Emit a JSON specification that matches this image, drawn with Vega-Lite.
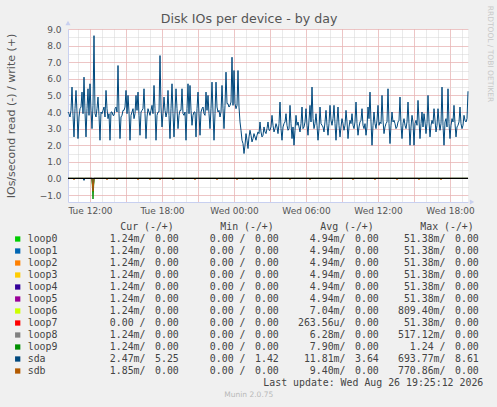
{
  "$schema": "https://vega.github.io/schema/vega-lite/v6.json",
  "background": "#f0f0f0",
  "padding": {"left": 5, "top": 5, "right": 20, "bottom": 20},
  "config": {"view": {"stroke": null}, "font": "DejaVu Sans"},
  "title": {"text": "Disk IOs per device - by day", "font": "DejaVu Sans", "fontSize": 12.6, "fontWeight": "normal", "color": "#555555", "anchor": "middle", "offset": -20.5},
  "spacing": 7,
  "datasets": {
    "write": [
      {"t": "2026-08-25T10:10", "v": 4.0}, {"t": "2026-08-25T10:20", "v": 3.7}, {"t": "2026-08-25T10:30", "v": 5.5}, {"t": "2026-08-25T10:40", "v": 2.5}, {"t": "2026-08-25T10:50", "v": 5.3},
      {"t": "2026-08-25T11:00", "v": 2.4}, {"t": "2026-08-25T11:10", "v": 4.2}, {"t": "2026-08-25T11:20", "v": 5.2}, {"t": "2026-08-25T11:30", "v": 6.1}, {"t": "2026-08-25T11:40", "v": 2.5}, {"t": "2026-08-25T11:50", "v": 5.4},
      {"t": "2026-08-25T12:00", "v": 5.7}, {"t": "2026-08-25T12:10", "v": 3.0}, {"t": "2026-08-25T12:20", "v": 8.6}, {"t": "2026-08-25T12:30", "v": 3.7}, {"t": "2026-08-25T12:40", "v": 4.9}, {"t": "2026-08-25T12:50", "v": 2.3},
      {"t": "2026-08-25T13:00", "v": 3.9}, {"t": "2026-08-25T13:10", "v": 4.3}, {"t": "2026-08-25T13:20", "v": 5.3}, {"t": "2026-08-25T13:30", "v": 3.6}, {"t": "2026-08-25T13:40", "v": 2.3}, {"t": "2026-08-25T13:50", "v": 4.0},
      {"t": "2026-08-25T14:00", "v": 3.8}, {"t": "2026-08-25T14:10", "v": 4.3}, {"t": "2026-08-25T14:20", "v": 6.8}, {"t": "2026-08-25T14:30", "v": 2.4}, {"t": "2026-08-25T14:40", "v": 3.8}, {"t": "2026-08-25T14:50", "v": 4.1},
      {"t": "2026-08-25T15:00", "v": 5.3}, {"t": "2026-08-25T15:10", "v": 5.0}, {"t": "2026-08-25T15:20", "v": 2.3}, {"t": "2026-08-25T15:30", "v": 4.0}, {"t": "2026-08-25T15:40", "v": 3.6}, {"t": "2026-08-25T15:50", "v": 5.0},
      {"t": "2026-08-25T16:00", "v": 5.2}, {"t": "2026-08-25T16:10", "v": 2.6}, {"t": "2026-08-25T16:20", "v": 4.1}, {"t": "2026-08-25T16:30", "v": 5.4}, {"t": "2026-08-25T16:40", "v": 2.4}, {"t": "2026-08-25T16:50", "v": 4.2},
      {"t": "2026-08-25T17:00", "v": 3.8}, {"t": "2026-08-25T17:10", "v": 4.4}, {"t": "2026-08-25T17:20", "v": 5.6}, {"t": "2026-08-25T17:30", "v": 2.3}, {"t": "2026-08-25T17:40", "v": 4.0}, {"t": "2026-08-25T17:50", "v": 7.4},
      {"t": "2026-08-25T18:00", "v": 3.1}, {"t": "2026-08-25T18:10", "v": 4.9}, {"t": "2026-08-25T18:20", "v": 3.7}, {"t": "2026-08-25T18:30", "v": 5.3}, {"t": "2026-08-25T18:40", "v": 2.4}, {"t": "2026-08-25T18:50", "v": 5.7},
      {"t": "2026-08-25T19:00", "v": 2.5}, {"t": "2026-08-25T19:10", "v": 5.4}, {"t": "2026-08-25T19:20", "v": 3.0}, {"t": "2026-08-25T19:30", "v": 4.1}, {"t": "2026-08-25T19:40", "v": 5.4}, {"t": "2026-08-25T19:50", "v": 3.8},
      {"t": "2026-08-25T20:00", "v": 2.3}, {"t": "2026-08-25T20:10", "v": 5.7}, {"t": "2026-08-25T20:20", "v": 5.6}, {"t": "2026-08-25T20:30", "v": 3.2}, {"t": "2026-08-25T20:40", "v": 4.0}, {"t": "2026-08-25T20:50", "v": 2.5},
      {"t": "2026-08-25T21:00", "v": 5.2}, {"t": "2026-08-25T21:10", "v": 2.6}, {"t": "2026-08-25T21:20", "v": 4.2}, {"t": "2026-08-25T21:30", "v": 3.9}, {"t": "2026-08-25T21:40", "v": 5.2}, {"t": "2026-08-25T21:50", "v": 5.0},
      {"t": "2026-08-25T22:00", "v": 3.0}, {"t": "2026-08-25T22:10", "v": 5.8}, {"t": "2026-08-25T22:20", "v": 2.3}, {"t": "2026-08-25T22:30", "v": 5.8}, {"t": "2026-08-25T22:40", "v": 4.0}, {"t": "2026-08-25T22:50", "v": 3.7},
      {"t": "2026-08-25T23:00", "v": 5.6}, {"t": "2026-08-25T23:10", "v": 3.0}, {"t": "2026-08-25T23:20", "v": 6.4}, {"t": "2026-08-25T23:30", "v": 4.5}, {"t": "2026-08-25T23:40", "v": 4.4}, {"t": "2026-08-25T23:50", "v": 7.3},
      {"t": "2026-08-26T00:00", "v": 6.5}, {"t": "2026-08-26T00:10", "v": 4.2}, {"t": "2026-08-26T00:20", "v": 6.5}, {"t": "2026-08-26T00:30", "v": 3.4}, {"t": "2026-08-26T00:40", "v": 2.3}, {"t": "2026-08-26T00:50", "v": 1.5},
      {"t": "2026-08-26T01:00", "v": 2.7}, {"t": "2026-08-26T01:10", "v": 1.8}, {"t": "2026-08-26T01:20", "v": 2.9}, {"t": "2026-08-26T01:30", "v": 2.2}, {"t": "2026-08-26T01:40", "v": 2.7}, {"t": "2026-08-26T01:50", "v": 2.3},
      {"t": "2026-08-26T02:00", "v": 2.8}, {"t": "2026-08-26T02:10", "v": 3.4}, {"t": "2026-08-26T02:20", "v": 2.5}, {"t": "2026-08-26T02:30", "v": 3.1}, {"t": "2026-08-26T02:40", "v": 2.7}, {"t": "2026-08-26T02:50", "v": 3.4},
      {"t": "2026-08-26T03:00", "v": 2.9}, {"t": "2026-08-26T03:10", "v": 3.8}, {"t": "2026-08-26T03:20", "v": 2.8}, {"t": "2026-08-26T03:30", "v": 3.3}, {"t": "2026-08-26T03:40", "v": 2.7}, {"t": "2026-08-26T03:50", "v": 4.6},
      {"t": "2026-08-26T04:00", "v": 2.3}, {"t": "2026-08-26T04:10", "v": 3.3}, {"t": "2026-08-26T04:20", "v": 3.9}, {"t": "2026-08-26T04:30", "v": 2.9}, {"t": "2026-08-26T04:40", "v": 4.4}, {"t": "2026-08-26T04:50", "v": 2.4},
      {"t": "2026-08-26T05:00", "v": 2.0}, {"t": "2026-08-26T05:10", "v": 3.8}, {"t": "2026-08-26T05:20", "v": 3.4}, {"t": "2026-08-26T05:30", "v": 2.8}, {"t": "2026-08-26T05:40", "v": 4.3}, {"t": "2026-08-26T05:50", "v": 3.1},
      {"t": "2026-08-26T06:00", "v": 4.2}, {"t": "2026-08-26T06:10", "v": 2.6}, {"t": "2026-08-26T06:20", "v": 4.4}, {"t": "2026-08-26T06:30", "v": 5.5}, {"t": "2026-08-26T06:40", "v": 3.0}, {"t": "2026-08-26T06:50", "v": 3.9},
      {"t": "2026-08-26T07:00", "v": 2.3}, {"t": "2026-08-26T07:10", "v": 4.3}, {"t": "2026-08-26T07:20", "v": 3.2}, {"t": "2026-08-26T07:30", "v": 2.8}, {"t": "2026-08-26T07:40", "v": 4.1}, {"t": "2026-08-26T07:50", "v": 2.6},
      {"t": "2026-08-26T08:00", "v": 4.4}, {"t": "2026-08-26T08:10", "v": 3.2}, {"t": "2026-08-26T08:20", "v": 4.4}, {"t": "2026-08-26T08:30", "v": 2.3}, {"t": "2026-08-26T08:40", "v": 4.3}, {"t": "2026-08-26T08:50", "v": 2.5},
      {"t": "2026-08-26T09:00", "v": 3.6}, {"t": "2026-08-26T09:10", "v": 2.9}, {"t": "2026-08-26T09:20", "v": 4.1}, {"t": "2026-08-26T09:30", "v": 2.4}, {"t": "2026-08-26T09:40", "v": 3.5}, {"t": "2026-08-26T09:50", "v": 3.9},
      {"t": "2026-08-26T10:00", "v": 3.0}, {"t": "2026-08-26T10:10", "v": 4.6}, {"t": "2026-08-26T10:20", "v": 2.6}, {"t": "2026-08-26T10:30", "v": 3.4}, {"t": "2026-08-26T10:40", "v": 4.2}, {"t": "2026-08-26T10:50", "v": 3.0},
      {"t": "2026-08-26T11:00", "v": 2.6}, {"t": "2026-08-26T11:10", "v": 4.3}, {"t": "2026-08-26T11:20", "v": 5.2}, {"t": "2026-08-26T11:30", "v": 2.0}, {"t": "2026-08-26T11:40", "v": 4.0}, {"t": "2026-08-26T11:50", "v": 3.0},
      {"t": "2026-08-26T12:00", "v": 4.4}, {"t": "2026-08-26T12:10", "v": 3.4}, {"t": "2026-08-26T12:20", "v": 5.0}, {"t": "2026-08-26T12:30", "v": 2.7}, {"t": "2026-08-26T12:40", "v": 3.3}, {"t": "2026-08-26T12:50", "v": 5.4},
      {"t": "2026-08-26T13:00", "v": 2.1}, {"t": "2026-08-26T13:10", "v": 4.0}, {"t": "2026-08-26T13:20", "v": 3.5}, {"t": "2026-08-26T13:30", "v": 3.0}, {"t": "2026-08-26T13:40", "v": 3.4}, {"t": "2026-08-26T13:50", "v": 4.9},
      {"t": "2026-08-26T14:00", "v": 2.4}, {"t": "2026-08-26T14:10", "v": 3.6}, {"t": "2026-08-26T14:20", "v": 3.0}, {"t": "2026-08-26T14:30", "v": 4.6}, {"t": "2026-08-26T14:40", "v": 2.0}, {"t": "2026-08-26T14:50", "v": 3.8},
      {"t": "2026-08-26T15:00", "v": 2.0}, {"t": "2026-08-26T15:10", "v": 3.5}, {"t": "2026-08-26T15:20", "v": 4.7}, {"t": "2026-08-26T15:30", "v": 2.4}, {"t": "2026-08-26T15:40", "v": 4.0}, {"t": "2026-08-26T15:50", "v": 3.9},
      {"t": "2026-08-26T16:00", "v": 2.7}, {"t": "2026-08-26T16:10", "v": 5.0}, {"t": "2026-08-26T16:20", "v": 2.5}, {"t": "2026-08-26T16:30", "v": 3.5}, {"t": "2026-08-26T16:40", "v": 4.2}, {"t": "2026-08-26T16:50", "v": 2.8},
      {"t": "2026-08-26T17:00", "v": 4.2}, {"t": "2026-08-26T17:10", "v": 2.9}, {"t": "2026-08-26T17:20", "v": 5.5}, {"t": "2026-08-26T17:30", "v": 2.0}, {"t": "2026-08-26T17:40", "v": 3.6}, {"t": "2026-08-26T17:50", "v": 5.4},
      {"t": "2026-08-26T18:00", "v": 2.4}, {"t": "2026-08-26T18:10", "v": 3.6}, {"t": "2026-08-26T18:20", "v": 4.4}, {"t": "2026-08-26T18:30", "v": 2.5}, {"t": "2026-08-26T18:40", "v": 3.2}, {"t": "2026-08-26T18:50", "v": 4.3},
      {"t": "2026-08-26T19:00", "v": 3.0}, {"t": "2026-08-26T19:10", "v": 3.8}, {"t": "2026-08-26T19:20", "v": 3.4}, {"t": "2026-08-26T19:30", "v": 5.25},
      {"t": "2026-08-25T10:15", "v": 3.9}, {"t": "2026-08-25T10:25", "v": 4.1}, {"t": "2026-08-25T10:35", "v": 3.8}, {"t": "2026-08-25T10:45", "v": 4.2}, {"t": "2026-08-25T10:55", "v": 4.0},
      {"t": "2026-08-25T11:05", "v": 3.7}, {"t": "2026-08-25T11:15", "v": 4.3}, {"t": "2026-08-25T11:25", "v": 3.9}, {"t": "2026-08-25T11:35", "v": 4.0}, {"t": "2026-08-25T11:45", "v": 4.2}, {"t": "2026-08-25T11:55", "v": 3.8},
      {"t": "2026-08-25T12:05", "v": 4.1}, {"t": "2026-08-25T12:15", "v": 4.4}, {"t": "2026-08-25T12:25", "v": 3.9}, {"t": "2026-08-25T12:35", "v": 4.2}, {"t": "2026-08-25T12:45", "v": 3.8}, {"t": "2026-08-25T12:55", "v": 4.0},
      {"t": "2026-08-25T13:05", "v": 4.1}, {"t": "2026-08-25T13:15", "v": 3.7}, {"t": "2026-08-25T13:25", "v": 4.2}, {"t": "2026-08-25T13:35", "v": 3.9}, {"t": "2026-08-25T13:45", "v": 4.0}, {"t": "2026-08-25T13:55", "v": 3.8},
      {"t": "2026-08-25T14:05", "v": 4.2}, {"t": "2026-08-25T14:15", "v": 4.0}, {"t": "2026-08-25T14:25", "v": 3.9}, {"t": "2026-08-25T14:35", "v": 3.7}, {"t": "2026-08-25T14:45", "v": 4.1}, {"t": "2026-08-25T14:55", "v": 4.3},
      {"t": "2026-08-25T15:05", "v": 3.9}, {"t": "2026-08-25T15:15", "v": 4.0}, {"t": "2026-08-25T15:25", "v": 3.8}, {"t": "2026-08-25T15:35", "v": 4.2}, {"t": "2026-08-25T15:45", "v": 3.9}, {"t": "2026-08-25T15:55", "v": 4.1},
      {"t": "2026-08-25T16:05", "v": 3.8}, {"t": "2026-08-25T16:15", "v": 4.0}, {"t": "2026-08-25T16:25", "v": 4.2}, {"t": "2026-08-25T16:35", "v": 3.9}, {"t": "2026-08-25T16:45", "v": 3.7}, {"t": "2026-08-25T16:55", "v": 4.0},
      {"t": "2026-08-25T17:05", "v": 4.1}, {"t": "2026-08-25T17:15", "v": 3.9}, {"t": "2026-08-25T17:25", "v": 4.2}, {"t": "2026-08-25T17:35", "v": 3.8}, {"t": "2026-08-25T17:45", "v": 4.0}, {"t": "2026-08-25T17:55", "v": 4.3},
      {"t": "2026-08-25T18:05", "v": 3.9}, {"t": "2026-08-25T18:15", "v": 4.1}, {"t": "2026-08-25T18:25", "v": 4.0}, {"t": "2026-08-25T18:35", "v": 3.8}, {"t": "2026-08-25T18:45", "v": 4.2}, {"t": "2026-08-25T18:55", "v": 3.9},
      {"t": "2026-08-25T19:05", "v": 4.0}, {"t": "2026-08-25T19:15", "v": 4.2}, {"t": "2026-08-25T19:25", "v": 3.8}, {"t": "2026-08-25T19:35", "v": 4.1}, {"t": "2026-08-25T19:45", "v": 3.9}, {"t": "2026-08-25T19:55", "v": 4.0},
      {"t": "2026-08-25T20:05", "v": 4.2}, {"t": "2026-08-25T20:15", "v": 3.9}, {"t": "2026-08-25T20:25", "v": 4.1}, {"t": "2026-08-25T20:35", "v": 3.8}, {"t": "2026-08-25T20:45", "v": 4.0}, {"t": "2026-08-25T20:55", "v": 4.2},
      {"t": "2026-08-25T21:05", "v": 3.9}, {"t": "2026-08-25T21:15", "v": 4.0}, {"t": "2026-08-25T21:25", "v": 4.3}, {"t": "2026-08-25T21:35", "v": 3.8}, {"t": "2026-08-25T21:45", "v": 4.1}, {"t": "2026-08-25T21:55", "v": 3.9},
      {"t": "2026-08-25T22:05", "v": 4.2}, {"t": "2026-08-25T22:15", "v": 4.0}, {"t": "2026-08-25T22:25", "v": 3.9}, {"t": "2026-08-25T22:35", "v": 4.3}, {"t": "2026-08-25T22:45", "v": 4.1}, {"t": "2026-08-25T22:55", "v": 4.0},
      {"t": "2026-08-25T23:05", "v": 4.2}, {"t": "2026-08-25T23:15", "v": 4.4}, {"t": "2026-08-25T23:25", "v": 4.5}, {"t": "2026-08-25T23:35", "v": 4.3}, {"t": "2026-08-25T23:45", "v": 4.6}, {"t": "2026-08-25T23:55", "v": 4.4},
      {"t": "2026-08-26T00:05", "v": 4.5}, {"t": "2026-08-26T00:15", "v": 4.4}, {"t": "2026-08-26T00:25", "v": 4.3}, {"t": "2026-08-26T00:35", "v": 2.9}, {"t": "2026-08-26T00:45", "v": 2.1}, {"t": "2026-08-26T00:55", "v": 2.0},
      {"t": "2026-08-26T01:05", "v": 2.3}, {"t": "2026-08-26T01:15", "v": 2.5}, {"t": "2026-08-26T01:25", "v": 2.6}, {"t": "2026-08-26T01:35", "v": 2.4}, {"t": "2026-08-26T01:45", "v": 2.5}, {"t": "2026-08-26T01:55", "v": 2.6},
      {"t": "2026-08-26T02:05", "v": 2.7}, {"t": "2026-08-26T02:15", "v": 2.8}, {"t": "2026-08-26T02:25", "v": 2.6}, {"t": "2026-08-26T02:35", "v": 2.8}, {"t": "2026-08-26T02:45", "v": 3.0}, {"t": "2026-08-26T02:55", "v": 2.9},
      {"t": "2026-08-26T03:05", "v": 3.1}, {"t": "2026-08-26T03:15", "v": 3.2}, {"t": "2026-08-26T03:25", "v": 3.0}, {"t": "2026-08-26T03:35", "v": 3.1}, {"t": "2026-08-26T03:45", "v": 3.3}, {"t": "2026-08-26T03:55", "v": 3.0},
      {"t": "2026-08-26T04:05", "v": 3.1}, {"t": "2026-08-26T04:15", "v": 3.4}, {"t": "2026-08-26T04:25", "v": 3.2}, {"t": "2026-08-26T04:35", "v": 3.0}, {"t": "2026-08-26T04:45", "v": 3.3}, {"t": "2026-08-26T04:55", "v": 3.1},
      {"t": "2026-08-26T05:05", "v": 2.9}, {"t": "2026-08-26T05:15", "v": 3.2}, {"t": "2026-08-26T05:25", "v": 3.1}, {"t": "2026-08-26T05:35", "v": 3.3}, {"t": "2026-08-26T05:45", "v": 3.0}, {"t": "2026-08-26T05:55", "v": 3.4},
      {"t": "2026-08-26T06:05", "v": 3.2}, {"t": "2026-08-26T06:15", "v": 3.5}, {"t": "2026-08-26T06:25", "v": 3.4}, {"t": "2026-08-26T06:35", "v": 3.6}, {"t": "2026-08-26T06:45", "v": 3.3}, {"t": "2026-08-26T06:55", "v": 3.2},
      {"t": "2026-08-26T07:05", "v": 3.0}, {"t": "2026-08-26T07:15", "v": 3.3}, {"t": "2026-08-26T07:25", "v": 3.1}, {"t": "2026-08-26T07:35", "v": 3.4}, {"t": "2026-08-26T07:45", "v": 3.2}, {"t": "2026-08-26T07:55", "v": 3.3},
      {"t": "2026-08-26T08:05", "v": 3.5}, {"t": "2026-08-26T08:15", "v": 3.6}, {"t": "2026-08-26T08:25", "v": 3.3}, {"t": "2026-08-26T08:35", "v": 3.4}, {"t": "2026-08-26T08:45", "v": 3.2}, {"t": "2026-08-26T08:55", "v": 3.1},
      {"t": "2026-08-26T09:05", "v": 3.3}, {"t": "2026-08-26T09:15", "v": 3.2}, {"t": "2026-08-26T09:25", "v": 3.4}, {"t": "2026-08-26T09:35", "v": 3.1}, {"t": "2026-08-26T09:45", "v": 3.3}, {"t": "2026-08-26T09:55", "v": 3.2},
      {"t": "2026-08-26T10:05", "v": 3.4}, {"t": "2026-08-26T10:15", "v": 3.3}, {"t": "2026-08-26T10:25", "v": 3.1}, {"t": "2026-08-26T10:35", "v": 3.5}, {"t": "2026-08-26T10:45", "v": 3.2}, {"t": "2026-08-26T10:55", "v": 3.3},
      {"t": "2026-08-26T11:05", "v": 3.1}, {"t": "2026-08-26T11:15", "v": 3.6}, {"t": "2026-08-26T11:25", "v": 3.4}, {"t": "2026-08-26T11:35", "v": 3.2}, {"t": "2026-08-26T11:45", "v": 3.3}, {"t": "2026-08-26T11:55", "v": 3.5},
      {"t": "2026-08-26T12:05", "v": 3.2}, {"t": "2026-08-26T12:15", "v": 3.3}, {"t": "2026-08-26T12:25", "v": 3.5}, {"t": "2026-08-26T12:35", "v": 3.1}, {"t": "2026-08-26T12:45", "v": 3.4}, {"t": "2026-08-26T12:55", "v": 3.3},
      {"t": "2026-08-26T13:05", "v": 3.2}, {"t": "2026-08-26T13:15", "v": 3.4}, {"t": "2026-08-26T13:25", "v": 3.3}, {"t": "2026-08-26T13:35", "v": 3.1}, {"t": "2026-08-26T13:45", "v": 3.5}, {"t": "2026-08-26T13:55", "v": 3.2},
      {"t": "2026-08-26T14:05", "v": 3.3}, {"t": "2026-08-26T14:15", "v": 3.2}, {"t": "2026-08-26T14:25", "v": 3.4}, {"t": "2026-08-26T14:35", "v": 3.3}, {"t": "2026-08-26T14:45", "v": 3.1}, {"t": "2026-08-26T14:55", "v": 3.4},
      {"t": "2026-08-26T15:05", "v": 3.3}, {"t": "2026-08-26T15:15", "v": 3.2}, {"t": "2026-08-26T15:25", "v": 3.5}, {"t": "2026-08-26T15:35", "v": 3.3}, {"t": "2026-08-26T15:45", "v": 3.1}, {"t": "2026-08-26T15:55", "v": 3.4},
      {"t": "2026-08-26T16:05", "v": 3.3}, {"t": "2026-08-26T16:15", "v": 3.4}, {"t": "2026-08-26T16:25", "v": 3.2}, {"t": "2026-08-26T16:35", "v": 3.3}, {"t": "2026-08-26T16:45", "v": 3.5}, {"t": "2026-08-26T16:55", "v": 3.2},
      {"t": "2026-08-26T17:05", "v": 3.4}, {"t": "2026-08-26T17:15", "v": 3.3}, {"t": "2026-08-26T17:25", "v": 3.2}, {"t": "2026-08-26T17:35", "v": 3.4}, {"t": "2026-08-26T17:45", "v": 3.1}, {"t": "2026-08-26T17:55", "v": 3.3},
      {"t": "2026-08-26T18:05", "v": 3.2}, {"t": "2026-08-26T18:15", "v": 3.4}, {"t": "2026-08-26T18:25", "v": 3.3}, {"t": "2026-08-26T18:35", "v": 3.1}, {"t": "2026-08-26T18:45", "v": 3.4}, {"t": "2026-08-26T18:55", "v": 3.3},
      {"t": "2026-08-26T19:05", "v": 3.2}, {"t": "2026-08-26T19:15", "v": 3.5}, {"t": "2026-08-26T19:25", "v": 3.6}
    ],
    "reads": [
      {"dev": "loop6", "t": "2026-08-25T10:10", "v": 0}, {"dev": "loop6", "t": "2026-08-25T12:10", "v": 0}, {"dev": "loop6", "t": "2026-08-25T12:15", "v": -0.81}, {"dev": "loop6", "t": "2026-08-25T12:20", "v": 0}, {"dev": "loop6", "t": "2026-08-26T19:30", "v": 0},
      {"dev": "loop9", "t": "2026-08-25T10:10", "v": 0}, {"dev": "loop9", "t": "2026-08-25T12:10", "v": 0}, {"dev": "loop9", "t": "2026-08-25T12:15", "v": -1.24}, {"dev": "loop9", "t": "2026-08-25T12:20", "v": 0}, {"dev": "loop9", "t": "2026-08-26T19:30", "v": 0},
      {"dev": "sda", "t": "2026-08-25T10:10", "v": 0}, {"dev": "sda", "t": "2026-08-25T11:25", "v": 0}, {"dev": "sda", "t": "2026-08-25T11:30", "v": -0.12}, {"dev": "sda", "t": "2026-08-25T11:35", "v": 0}, {"dev": "sda", "t": "2026-08-25T12:10", "v": 0}, {"dev": "sda", "t": "2026-08-25T12:15", "v": -0.69}, {"dev": "sda", "t": "2026-08-25T12:20", "v": 0}, {"dev": "sda", "t": "2026-08-26T19:30", "v": 0},
      {"dev": "sdb", "t": "2026-08-25T10:10", "v": 0},
      {"dev": "sdb", "t": "2026-08-25T10:35", "v": 0}, {"dev": "sdb", "t": "2026-08-25T10:40", "v": -0.08}, {"dev": "sdb", "t": "2026-08-25T10:45", "v": 0},
      {"dev": "sdb", "t": "2026-08-25T12:10", "v": 0}, {"dev": "sdb", "t": "2026-08-25T12:15", "v": -0.77}, {"dev": "sdb", "t": "2026-08-25T12:20", "v": 0},
      {"dev": "sdb", "t": "2026-08-25T13:20", "v": 0}, {"dev": "sdb", "t": "2026-08-25T13:25", "v": -0.08}, {"dev": "sdb", "t": "2026-08-25T13:30", "v": 0},
      {"dev": "sdb", "t": "2026-08-25T14:10", "v": 0}, {"dev": "sdb", "t": "2026-08-25T14:15", "v": -0.08}, {"dev": "sdb", "t": "2026-08-25T14:20", "v": 0},
      {"dev": "sdb", "t": "2026-08-25T15:55", "v": 0}, {"dev": "sdb", "t": "2026-08-25T16:00", "v": -0.08}, {"dev": "sdb", "t": "2026-08-25T16:05", "v": 0},
      {"dev": "sdb", "t": "2026-08-25T16:55", "v": 0}, {"dev": "sdb", "t": "2026-08-25T17:00", "v": -0.08}, {"dev": "sdb", "t": "2026-08-25T17:05", "v": 0},
      {"dev": "sdb", "t": "2026-08-25T17:45", "v": 0}, {"dev": "sdb", "t": "2026-08-25T17:50", "v": -0.08}, {"dev": "sdb", "t": "2026-08-25T17:55", "v": 0},
      {"dev": "sdb", "t": "2026-08-25T18:50", "v": 0}, {"dev": "sdb", "t": "2026-08-25T18:55", "v": -0.08}, {"dev": "sdb", "t": "2026-08-25T19:00", "v": 0},
      {"dev": "sdb", "t": "2026-08-25T20:40", "v": 0}, {"dev": "sdb", "t": "2026-08-25T20:45", "v": -0.08}, {"dev": "sdb", "t": "2026-08-25T20:50", "v": 0},
      {"dev": "sdb", "t": "2026-08-25T22:30", "v": 0}, {"dev": "sdb", "t": "2026-08-25T22:35", "v": -0.08}, {"dev": "sdb", "t": "2026-08-25T22:40", "v": 0},
      {"dev": "sdb", "t": "2026-08-26T00:10", "v": 0}, {"dev": "sdb", "t": "2026-08-26T00:15", "v": -0.08}, {"dev": "sdb", "t": "2026-08-26T00:20", "v": 0},
      {"dev": "sdb", "t": "2026-08-26T01:30", "v": 0}, {"dev": "sdb", "t": "2026-08-26T01:35", "v": -0.08}, {"dev": "sdb", "t": "2026-08-26T01:40", "v": 0},
      {"dev": "sdb", "t": "2026-08-26T02:55", "v": 0}, {"dev": "sdb", "t": "2026-08-26T03:00", "v": -0.08}, {"dev": "sdb", "t": "2026-08-26T03:05", "v": 0},
      {"dev": "sdb", "t": "2026-08-26T04:35", "v": 0}, {"dev": "sdb", "t": "2026-08-26T04:40", "v": -0.08}, {"dev": "sdb", "t": "2026-08-26T04:45", "v": 0},
      {"dev": "sdb", "t": "2026-08-26T06:15", "v": 0}, {"dev": "sdb", "t": "2026-08-26T06:20", "v": -0.08}, {"dev": "sdb", "t": "2026-08-26T06:25", "v": 0},
      {"dev": "sdb", "t": "2026-08-26T08:00", "v": 0}, {"dev": "sdb", "t": "2026-08-26T08:05", "v": -0.08}, {"dev": "sdb", "t": "2026-08-26T08:10", "v": 0},
      {"dev": "sdb", "t": "2026-08-26T09:50", "v": 0}, {"dev": "sdb", "t": "2026-08-26T09:55", "v": -0.08}, {"dev": "sdb", "t": "2026-08-26T10:00", "v": 0},
      {"dev": "sdb", "t": "2026-08-26T11:40", "v": 0}, {"dev": "sdb", "t": "2026-08-26T11:45", "v": -0.08}, {"dev": "sdb", "t": "2026-08-26T11:50", "v": 0},
      {"dev": "sdb", "t": "2026-08-26T13:30", "v": 0}, {"dev": "sdb", "t": "2026-08-26T13:35", "v": -0.08}, {"dev": "sdb", "t": "2026-08-26T13:40", "v": 0},
      {"dev": "sdb", "t": "2026-08-26T15:20", "v": 0}, {"dev": "sdb", "t": "2026-08-26T15:25", "v": -0.08}, {"dev": "sdb", "t": "2026-08-26T15:30", "v": 0},
      {"dev": "sdb", "t": "2026-08-26T17:10", "v": 0}, {"dev": "sdb", "t": "2026-08-26T17:15", "v": -0.08}, {"dev": "sdb", "t": "2026-08-26T17:20", "v": 0},
      {"dev": "sdb", "t": "2026-08-26T19:30", "v": 0}
    ],
    "stats": [
      {"dev": "loop0", "stat": "Cur", "r": "1.24m/", "w": "0.00"}, {"dev": "loop0", "stat": "Min", "r": "0.00 /", "w": "0.00"}, {"dev": "loop0", "stat": "Avg", "r": "4.94m/", "w": "0.00"}, {"dev": "loop0", "stat": "Max", "r": "51.38m/", "w": "0.00"},
      {"dev": "loop1", "stat": "Cur", "r": "1.24m/", "w": "0.00"}, {"dev": "loop1", "stat": "Min", "r": "0.00 /", "w": "0.00"}, {"dev": "loop1", "stat": "Avg", "r": "4.94m/", "w": "0.00"}, {"dev": "loop1", "stat": "Max", "r": "51.38m/", "w": "0.00"},
      {"dev": "loop2", "stat": "Cur", "r": "1.24m/", "w": "0.00"}, {"dev": "loop2", "stat": "Min", "r": "0.00 /", "w": "0.00"}, {"dev": "loop2", "stat": "Avg", "r": "4.94m/", "w": "0.00"}, {"dev": "loop2", "stat": "Max", "r": "51.38m/", "w": "0.00"},
      {"dev": "loop3", "stat": "Cur", "r": "1.24m/", "w": "0.00"}, {"dev": "loop3", "stat": "Min", "r": "0.00 /", "w": "0.00"}, {"dev": "loop3", "stat": "Avg", "r": "4.94m/", "w": "0.00"}, {"dev": "loop3", "stat": "Max", "r": "51.38m/", "w": "0.00"},
      {"dev": "loop4", "stat": "Cur", "r": "1.24m/", "w": "0.00"}, {"dev": "loop4", "stat": "Min", "r": "0.00 /", "w": "0.00"}, {"dev": "loop4", "stat": "Avg", "r": "4.94m/", "w": "0.00"}, {"dev": "loop4", "stat": "Max", "r": "51.38m/", "w": "0.00"},
      {"dev": "loop5", "stat": "Cur", "r": "1.24m/", "w": "0.00"}, {"dev": "loop5", "stat": "Min", "r": "0.00 /", "w": "0.00"}, {"dev": "loop5", "stat": "Avg", "r": "4.94m/", "w": "0.00"}, {"dev": "loop5", "stat": "Max", "r": "51.38m/", "w": "0.00"},
      {"dev": "loop6", "stat": "Cur", "r": "1.24m/", "w": "0.00"}, {"dev": "loop6", "stat": "Min", "r": "0.00 /", "w": "0.00"}, {"dev": "loop6", "stat": "Avg", "r": "7.04m/", "w": "0.00"}, {"dev": "loop6", "stat": "Max", "r": "809.40m/", "w": "0.00"},
      {"dev": "loop7", "stat": "Cur", "r": "0.00 /", "w": "0.00"}, {"dev": "loop7", "stat": "Min", "r": "0.00 /", "w": "0.00"}, {"dev": "loop7", "stat": "Avg", "r": "263.56u/", "w": "0.00"}, {"dev": "loop7", "stat": "Max", "r": "51.38m/", "w": "0.00"},
      {"dev": "loop8", "stat": "Cur", "r": "1.24m/", "w": "0.00"}, {"dev": "loop8", "stat": "Min", "r": "0.00 /", "w": "0.00"}, {"dev": "loop8", "stat": "Avg", "r": "6.28m/", "w": "0.00"}, {"dev": "loop8", "stat": "Max", "r": "517.12m/", "w": "0.00"},
      {"dev": "loop9", "stat": "Cur", "r": "1.24m/", "w": "0.00"}, {"dev": "loop9", "stat": "Min", "r": "0.00 /", "w": "0.00"}, {"dev": "loop9", "stat": "Avg", "r": "7.90m/", "w": "0.00"}, {"dev": "loop9", "stat": "Max", "r": "1.24 /", "w": "0.00"},
      {"dev": "sda", "stat": "Cur", "r": "2.47m/", "w": "5.25"}, {"dev": "sda", "stat": "Min", "r": "0.00 /", "w": "1.42"}, {"dev": "sda", "stat": "Avg", "r": "11.81m/", "w": "3.64"}, {"dev": "sda", "stat": "Max", "r": "693.77m/", "w": "8.61"},
      {"dev": "sdb", "stat": "Cur", "r": "1.85m/", "w": "0.00"}, {"dev": "sdb", "stat": "Min", "r": "0.00 /", "w": "0.00"}, {"dev": "sdb", "stat": "Avg", "r": "9.40m/", "w": "0.00"}, {"dev": "sdb", "stat": "Max", "r": "770.86m/", "w": "0.00"}
    ],
    "heads": [
      {"stat": "Cur", "h": "Cur (-/+)"}, {"stat": "Min", "h": "Min (-/+)"}, {"stat": "Avg", "h": "Avg (-/+)"}, {"stat": "Max", "h": "Max (-/+)"}
    ]
  },
  "vconcat": [
    {
      "width": 400,
      "height": 173,
      "view": {"fill": "#ffffff", "stroke": null},
      "resolve": {"axis": {"x": "independent", "y": "independent"}},
      "layer": [
        {
          "data": {"name": "reads"},
          "mark": {"type": "line", "strokeWidth": 1},
          "encoding": {
            "x": {
              "field": "t", "type": "temporal", "scale": {"nice": false},
              "axis": {"orient": "top", "title": null, "tickCount": 34, "labels": false, "ticks": false, "domain": false, "grid": true, "gridColor": "#d4d4d4", "gridDash": [1, 1]}
            },
            "y": {
              "field": "v", "type": "quantitative",
              "scale": {"domain": [-1.42, 9], "nice": false, "zero": false},
              "axis": {
                "orient": "right", "values": [-1, -0.5, 0, 0.5, 1, 1.5, 2, 2.5, 3, 3.5, 4, 4.5, 5, 5.5, 6, 6.5, 7, 7.5, 8, 8.5, 9],
                "labels": false, "ticks": false, "domain": false, "grid": true, "gridColor": "#d4d4d4", "gridDash": [1, 1],
                "title": "RRDTOOL / TOBI OETIKER", "titleFontSize": 7.5, "titleFontWeight": "normal", "titleColor": "#c8c8c8",
                "titleAngle": 90, "titleX": 21, "titleY": 24.5, "titleAlign": "center", "titleBaseline": "middle"
              }
            },
            "color": {
              "field": "dev", "type": "nominal", "legend": null,
              "scale": {
                "domain": ["loop0", "loop1", "loop2", "loop3", "loop4", "loop5", "loop6", "loop7", "loop8", "loop9", "sda", "sdb"],
                "range": ["#00cc00", "#0066b3", "#ff8000", "#ffcc00", "#330099", "#990099", "#ccff00", "#ff0000", "#808080", "#008f00", "#00487d", "#b35a00"]
              }
            }
          }
        },
        {
          "data": {"name": "write"},
          "mark": {"type": "line", "color": "#00487d", "strokeWidth": 1},
          "encoding": {
            "x": {
              "field": "t", "type": "temporal",
              "axis": {
                "orient": "bottom", "title": null, "tickCount": 12,
                "labelExpr": "hours(datum.value) % 6 === 0 ? timeFormat(datum.value, '%a %H:%M') : ''",
                "labelOverlap": false, "labelFlush": false, "labelFontSize": 9, "labelColor": "#555555", "labelPadding": 4,
                "ticks": false, "domainColor": "#c8d0f0", "grid": true, "gridColor": "#f0a0a0", "gridDash": [1, 1]
              }
            },
            "y": {
              "field": "v", "type": "quantitative",
              "axis": {
                "orient": "left", "values": [-1, 0, 1, 2, 3, 4, 5, 6, 7, 8, 9], "format": ".1f",
                "title": "IOs/second read (-) / write (+)", "titleFontSize": 11, "titleFontWeight": "normal", "titleColor": "#555555", "titlePadding": 23,
                "labelOverlap": false, "labelFontSize": 9, "labelColor": "#555555", "labelPadding": 7,
                "ticks": false, "domainColor": "#c8d0f0", "grid": true, "gridColor": "#f0a0a0", "gridDash": [1, 1]
              }
            }
          }
        },
        {
          "data": {"values": [{}]},
          "mark": {"type": "rule", "color": "#000000", "strokeWidth": 1.4},
          "encoding": {
            "y": {"datum": 0, "type": "quantitative", "axis": null}
          }
        },
        {
          "data": {"values": [{"t": "2026-08-25T10:10", "v": 9.36}]},
          "mark": {"type": "point", "shape": "triangle-up", "filled": true, "size": 26, "color": "#c8d0f0", "opacity": 1},
          "encoding": {
            "x": {"field": "t", "type": "temporal", "axis": null},
            "y": {"field": "v", "type": "quantitative", "axis": null}
          }
        },
        {
          "data": {"values": [{"t": "2026-08-26T19:30", "v": -1.42}]},
          "mark": {"type": "point", "shape": "triangle-right", "filled": true, "size": 26, "color": "#c8d0f0", "opacity": 1, "xOffset": 4},
          "encoding": {
            "x": {"field": "t", "type": "temporal", "axis": null},
            "y": {"field": "v", "type": "quantitative", "axis": null}
          }
        }
      ]
    },
    {
      "width": 400,
      "height": 168,
      "layer": [
        {
          "data": {"name": "stats"},
          "transform": [{"filter": "datum.stat === 'Cur'"}],
          "mark": {"type": "square", "size": 28, "filled": true, "opacity": 1, "xOffset": -50.3},
          "encoding": {
            "x": {"datum": "name", "type": "ordinal", "scale": {"type": "point", "domain": ["name", "Cur", "Min", "Avg", "Max"], "padding": 0}, "axis": null},
            "y": {"field": "dev", "type": "ordinal", "scale": {"type": "point", "domain": ["hdr", "loop0", "loop1", "loop2", "loop3", "loop4", "loop5", "loop6", "loop7", "loop8", "loop9", "sda", "sdb", "upd", "munin"], "padding": 0}, "axis": null},
            "color": {"field": "dev", "type": "nominal", "legend": null,
              "scale": {
                "domain": ["loop0", "loop1", "loop2", "loop3", "loop4", "loop5", "loop6", "loop7", "loop8", "loop9", "sda", "sdb"],
                "range": ["#00cc00", "#0066b3", "#ff8000", "#ffcc00", "#330099", "#990099", "#ccff00", "#ff0000", "#808080", "#008f00", "#00487d", "#b35a00"]
              }
            }
          }
        },
        {
          "data": {"name": "stats"},
          "transform": [{"filter": "datum.stat === 'Cur'"}],
          "mark": {"type": "text", "font": "DejaVu Sans Mono", "fontSize": 9.9, "color": "#444444", "align": "left", "baseline": "middle", "dx": -40.3},
          "encoding": {
            "x": {"datum": "name", "type": "ordinal"},
            "y": {"field": "dev", "type": "ordinal"},
            "text": {"field": "dev"}
          }
        },
        {
          "data": {"name": "stats"},
          "mark": {"type": "text", "font": "DejaVu Sans Mono", "fontSize": 9.9, "color": "#444444", "align": "right", "baseline": "middle", "dx": -22.5},
          "encoding": {
            "x": {"field": "stat", "type": "ordinal"},
            "y": {"field": "dev", "type": "ordinal"},
            "text": {"field": "r"}
          }
        },
        {
          "data": {"name": "stats"},
          "mark": {"type": "text", "font": "DejaVu Sans Mono", "fontSize": 9.9, "color": "#444444", "align": "right", "baseline": "middle", "dx": 10.8},
          "encoding": {
            "x": {"field": "stat", "type": "ordinal"},
            "y": {"field": "dev", "type": "ordinal"},
            "text": {"field": "w"}
          }
        },
        {
          "data": {"name": "heads"},
          "mark": {"type": "text", "font": "DejaVu Sans Mono", "fontSize": 9.9, "color": "#444444", "align": "center", "baseline": "middle", "dx": -21},
          "encoding": {
            "x": {"field": "stat", "type": "ordinal"},
            "y": {"datum": "hdr", "type": "ordinal"},
            "text": {"field": "h"}
          }
        },
        {
          "data": {"values": [{"txt": "Last update: Wed Aug 26 19:25:12 2026"}]},
          "mark": {"type": "text", "font": "DejaVu Sans Mono", "fontSize": 9.9, "color": "#444444", "align": "right", "baseline": "middle", "dx": 15.3},
          "encoding": {
            "x": {"datum": "Max", "type": "ordinal"},
            "y": {"datum": "upd", "type": "ordinal"},
            "text": {"field": "txt"}
          }
        },
        {
          "data": {"values": [{"txt": "Munin 2.0.75"}]},
          "mark": {"type": "text", "font": "DejaVu Sans", "fontSize": 7.5, "color": "#b8b8b8", "align": "center", "baseline": "middle", "dx": -19.2},
          "encoding": {
            "x": {"datum": "Min", "type": "ordinal"},
            "y": {"datum": "munin", "type": "ordinal"},
            "text": {"field": "txt"}
          }
        }
      ]
    }
  ]
}
